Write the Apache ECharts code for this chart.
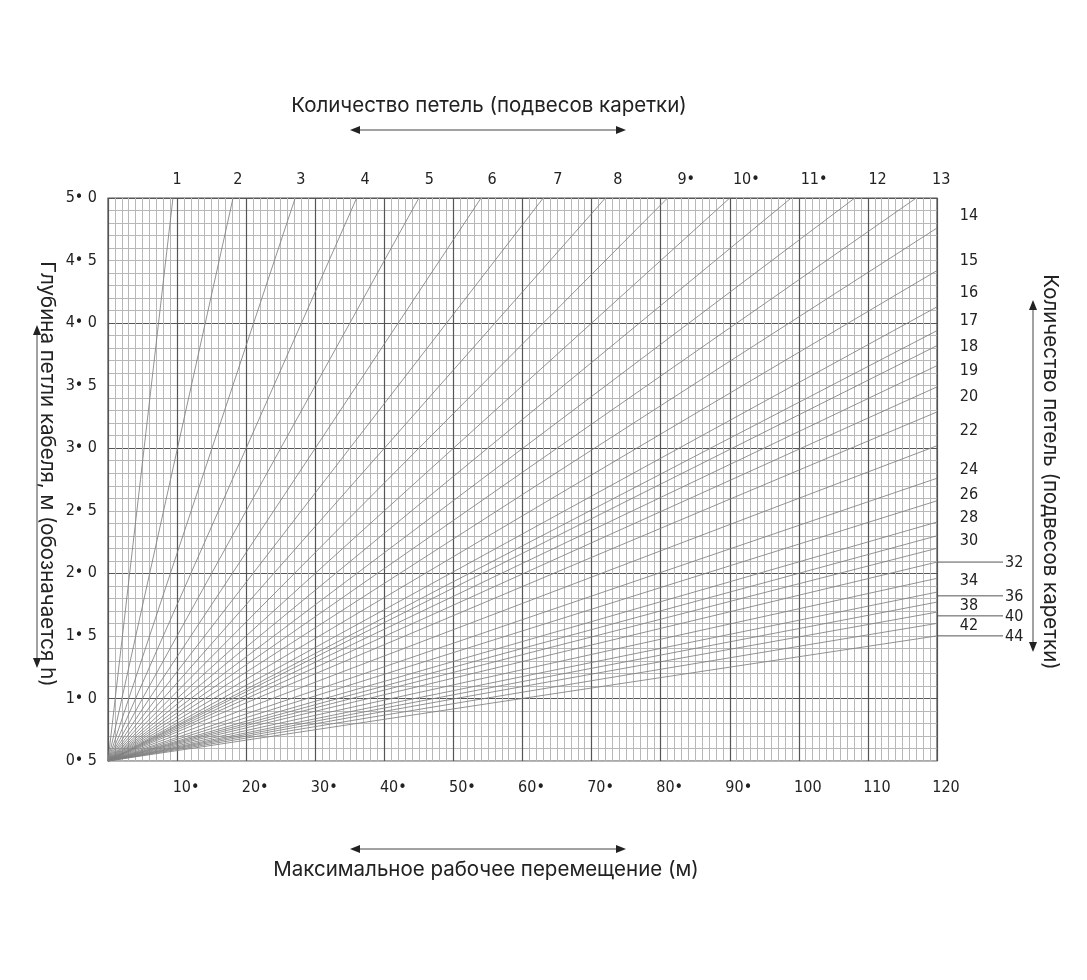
<!DOCTYPE html>
<html>
<head>
<meta charset="utf-8">
<script src="https://cdn.jsdelivr.net/npm/echarts@6/dist/echarts.min.js"></script>
<style>
html,body{margin:0;padding:0;background:#fff;}
#chart{width:1087px;height:980px;}
</style>
</head>
<body>
<div id="chart"></div>
<script>
// ---- data ----
// Lines ending on the top edge (depth 5.0 m): travel at the top end
const topLoopLabels = ['1','2','3','4','5','6','7','8','9•','10•','11•','12','13'];
const topEndTravel = [9.4, 18.1, 27.1, 36.0, 45.0, 54.0, 63.0, 72.0, 81.0, 90.0, 98.9, 108.1, 117.0];
const topLabelTravel = [10.0, 18.8, 27.9, 37.2, 46.5, 55.6, 65.1, 73.8, 83.7, 92.4, 102.2, 111.4, 120.6];
// Lines ending on the right edge (travel 120 m): depth at the right end
const rightEndDepth = [4.76, 4.42, 4.13, 3.94, 3.82, 3.66, 3.49, 3.29, 3.02, 2.76, 2.58, 2.41, 2.30, 2.20, 2.09, 1.96, 1.85, 1.77, 1.69, 1.60, 1.50];
// Right-side loop labels and the depth they sit at
const rightLoopLabels = ['14','15','16','17','18','19','20','22','24','26','28','30','32','34','36','38','40','42','44'];
const rightLabelDepth = [4.86, 4.50, 4.24, 4.02, 3.81, 3.62, 3.41, 3.14, 2.83, 2.63, 2.44, 2.26, 2.09, 1.94, 1.82, 1.74, 1.66, 1.58, 1.50];
const rightLabelLeader = [false,false,false,false,false,false,false,false,false,false,false,false,true,false,true,false,true,false,true];
// Common origin of the fan
const fanOrigin = [0, 0.5];
// Axis ranges / ticks
const travelMin = 0, travelMax = 120, travelStep = 10;
const depthMin = 0.5, depthMax = 5.0, depthStep = 0.5;

const numFont = "'Liberation Sans Narrow','DejaVu Sans Condensed','Roboto',sans-serif";
const titleFont = "Inter, Roboto, 'Noto Sans', sans-serif";

const chart = echarts.init(document.getElementById('chart'));

const lineSeries = [];
topEndTravel.forEach(function (t) {
  lineSeries.push({type:'line', silent:true, symbol:'none', animation:false,
    lineStyle:{color:'#808080', width:0.85}, data:[fanOrigin, [t, depthMax]]});
});
rightEndDepth.forEach(function (d) {
  lineSeries.push({type:'line', silent:true, symbol:'none', animation:false,
    lineStyle:{color:'#808080', width:0.85}, data:[fanOrigin, [travelMax, d]]});
});

const topLabelSeries = {
  type:'custom', silent:true, animation:false, clip:false,
  data: topLabelTravel.map(function (t, i) { return [t, depthMax, i]; }),
  renderItem: function (params, api) {
    const p = api.coord([api.value(0), api.value(1)]);
    return {type:'text', style:{text: topLoopLabels[api.value(2)], x:p[0], y:p[1]-18,
      align:'center', verticalAlign:'middle', fill:'#222', font:'16px ' + numFont}};
  }
};

const rightLabelSeries = {
  type:'custom', silent:true, animation:false, clip:false,
  data: rightLabelDepth.map(function (d, i) { return [travelMax, d, i]; }),
  renderItem: function (params, api) {
    const i = api.value(2);
    const p = api.coord([api.value(0), api.value(1)]);
    if (rightLabelLeader[i]) {
      return {type:'group', children:[
        {type:'line', shape:{x1:p[0], y1:p[1], x2:p[0]+66, y2:p[1]}, style:{stroke:'#555', lineWidth:1}},
        {type:'text', style:{text: rightLoopLabels[i], x:p[0]+68, y:p[1]+1, align:'left', verticalAlign:'middle',
          fill:'#222', font:'16px ' + numFont}}
      ]};
    }
    return {type:'text', style:{text: rightLoopLabels[i], x:p[0]+32, y:p[1], align:'center', verticalAlign:'middle',
      fill:'#222', font:'16px ' + numFont}};
  }
};

function arrowH(x1, x2, y) {
  return [
    {type:'line', shape:{x1:x1+6, y1:y, x2:x2-6, y2:y}, style:{stroke:'#444', lineWidth:1}},
    {type:'polygon', shape:{points:[[x1,y],[x1+10,y-4],[x1+10,y+4]]}, style:{fill:'#222'}},
    {type:'polygon', shape:{points:[[x2,y],[x2-10,y-4],[x2-10,y+4]]}, style:{fill:'#222'}}
  ];
}
function arrowV(x, y1, y2) {
  return [
    {type:'line', shape:{x1:x, y1:y1+6, x2:x, y2:y2-6}, style:{stroke:'#444', lineWidth:1}},
    {type:'polygon', shape:{points:[[x,y1],[x-4,y1+10],[x+4,y1+10]]}, style:{fill:'#222'}},
    {type:'polygon', shape:{points:[[x,y2],[x-4,y2-10],[x+4,y2-10]]}, style:{fill:'#222'}}
  ];
}

const graphics = [].concat(
  [{type:'text', style:{text:'Количество петель (подвесов каретки)', x:489, y:106, align:'center', verticalAlign:'middle',
     fill:'#222', font:'20.5px ' + titleFont}}],
  arrowH(350, 626, 130),
  [{type:'text', style:{text:'Максимальное рабочее перемещение (м)', x:486, y:870, align:'center', verticalAlign:'middle',
     fill:'#222', font:'20.5px ' + titleFont}}],
  arrowH(350, 626, 849),
  [{type:'text', x:47, y:474, rotation:-Math.PI/2, style:{text:'Глубина петли кабеля, м (обозначается h)', x:0, y:0,
     align:'center', verticalAlign:'middle', fill:'#222', font:'20.5px ' + titleFont}}],
  arrowV(37, 325, 668),
  [{type:'text', x:1050, y:472, rotation:-Math.PI/2, style:{text:'Количество петель (подвесов каретки)', x:0, y:0,
     align:'center', verticalAlign:'middle', fill:'#222', font:'20.5px ' + titleFont}}],
  arrowV(1033, 300, 652)
);

chart.setOption({
  animation:false,
  backgroundColor:'#fff',
  grid:{left:108, right:150, top:198, bottom:219, show:true, borderColor:'#555', borderWidth:1.2, backgroundColor:'transparent'},
  xAxis:{type:'value', min:travelMin, max:travelMax, interval:travelStep,
    axisLine:{show:false}, axisTick:{show:false},
    axisLabel:{showMinLabel:false, margin:19, color:'#222', fontSize:16, fontFamily:numFont,
      padding:[0,0,0,18],
      formatter:function (v) { return v < 100 ? v + '•' : String(v); }},
    splitLine:{show:true, lineStyle:{color:'#555', width:1.2}},
    minorTick:{show:false, splitNumber:10},
    minorSplitLine:{show:true, lineStyle:{color:'#b8b8b8', width:1}}},
  yAxis:{type:'value', min:depthMin, max:depthMax, interval:depthStep,
    axisLine:{show:false}, axisTick:{show:false},
    axisLabel:{margin:11, color:'#222', fontSize:16, fontFamily:numFont,
      formatter:function (v) { return v.toFixed(1).replace('.', '• '); }},
    splitLine:{show:true, lineStyle:{color:['#b8b8b8', '#555'], width:1.2}},
    minorTick:{show:false, splitNumber:5},
    minorSplitLine:{show:true, lineStyle:{color:'#b8b8b8', width:1}}},
  series: lineSeries.concat([topLabelSeries, rightLabelSeries]),
  graphic: graphics
});
</script>
</body>
</html>
